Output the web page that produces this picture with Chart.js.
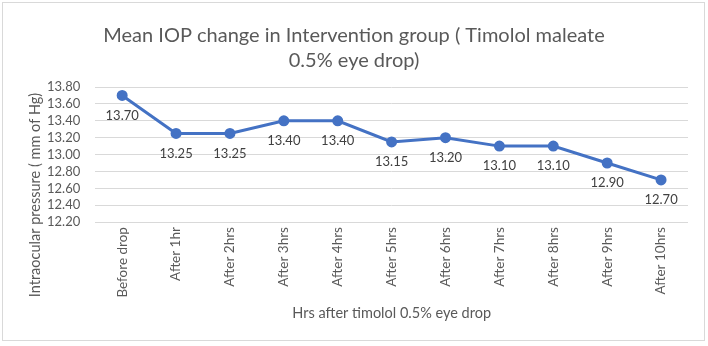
<!DOCTYPE html>
<html>
<head>
<meta charset="utf-8">
<script src="https://cdn.jsdelivr.net/npm/chart.js@4.4.0/dist/chart.umd.min.js"></script>
<style>
  html, body { margin: 0; padding: 0; background: #fff; }
</style>
</head>
<body>
<canvas id="iopChart" width="708" height="346"></canvas>
<script>
// datos
const horas = ['Before drop', 'After 1hr', 'After 2hrs', 'After 3hrs', 'After 4hrs', 'After 5hrs',
               'After 6hrs', 'After 7hrs', 'After 8hrs', 'After 9hrs', 'After 10hrs'];
const presionMedia = [13.70, 13.25, 13.25, 13.40, 13.40, 13.15, 13.20, 13.10, 13.10, 12.90, 12.70];
const yMin = 12.2;
const yMax = 13.8;
const yPaso = 0.2;
const tituloY = 'Intraocular pressure ( mm of Hg)';

const fuente = 'Lato, "Open Sans", sans-serif';

// etiquetas debajo de cada punto
const etiquetasValores = {
    id: 'etiquetasValores',
    afterDatasetsDraw(chart) {
        const ctx = chart.ctx;
        const meta = chart.getDatasetMeta(0);
        ctx.save();
        ctx.font = '13px ' + fuente;
        ctx.fillStyle = '#404040';
        ctx.textAlign = 'center';
        ctx.textBaseline = 'middle';
        meta.data.forEach((p, i) => {
            ctx.fillText(presionMedia[i].toFixed(2), p.x, p.y + 20);
        });
        ctx.restore();
    }
};

// marco gris + titulo del eje Y (centrado como en Excel, no sobre el area del grafico)
const marco = {
    id: 'marco',
    afterDraw(chart) {
        const ctx = chart.ctx;
        ctx.save();
        ctx.strokeStyle = '#d9d9d9';
        ctx.lineWidth = 1;
        ctx.strokeRect(2.5, 2.5, 702, 338);

        ctx.translate(35, 195);
        ctx.rotate(-Math.PI / 2);
        ctx.font = '14.5px ' + fuente;
        ctx.fillStyle = '#595959';
        ctx.textAlign = 'center';
        ctx.textBaseline = 'middle';
        ctx.fillText(tituloY, 0, 0);
        ctx.restore();
    }
};

new Chart(document.getElementById('iopChart'), {
    type: 'line',
    data: {
        labels: horas,
        datasets: [{
            data: presionMedia,
            borderColor: '#4472C4',
            backgroundColor: '#4472C4',
            borderWidth: 3,
            pointRadius: 4,
            pointBackgroundColor: '#4472C4',
            pointBorderColor: '#4472C4',
            tension: 0
        }]
    },
    options: {
        responsive: false,
        animation: false,
        layout: { padding: { left: 20, right: 20, top: 9, bottom: 20 } },
        plugins: {
            legend: { display: false },
            tooltip: { enabled: false },
            title: {
                display: true,
                text: ['Mean IOP change in Intervention group ( Timolol maleate', '0.5% eye drop)'],
                color: '#595959',
                font: { family: fuente, size: 20, weight: 'normal', lineHeight: 1.25 },
                padding: { top: 14, bottom: 14 }
            }
        },
        scales: {
            x: {
                offset: true,
                grid: { display: false, drawTicks: false },
                border: { display: false },
                ticks: {
                    color: '#595959',
                    font: { family: fuente, size: 13.5 },
                    maxRotation: 90,
                    minRotation: 90,
                    autoSkip: false,
                    padding: 5
                },
                title: {
                    display: true,
                    text: 'Hrs after timolol 0.5% eye drop',
                    color: '#595959',
                    font: { family: fuente, size: 14.5 },
                    padding: { top: 2 }
                }
            },
            y: {
                min: yMin,
                max: yMax,
                grid: { color: '#d9d9d9', drawTicks: false },
                border: { display: false },
                afterFit(scale) { scale.width += 12; },
                ticks: {
                    stepSize: yPaso,
                    autoSkip: false,
                    color: '#595959',
                    font: { family: fuente, size: 13 },
                    padding: 15,
                    callback: v => v.toFixed(2)
                }
            }
        }
    },
    plugins: [etiquetasValores, marco]
});
</script>
</body>
</html>
